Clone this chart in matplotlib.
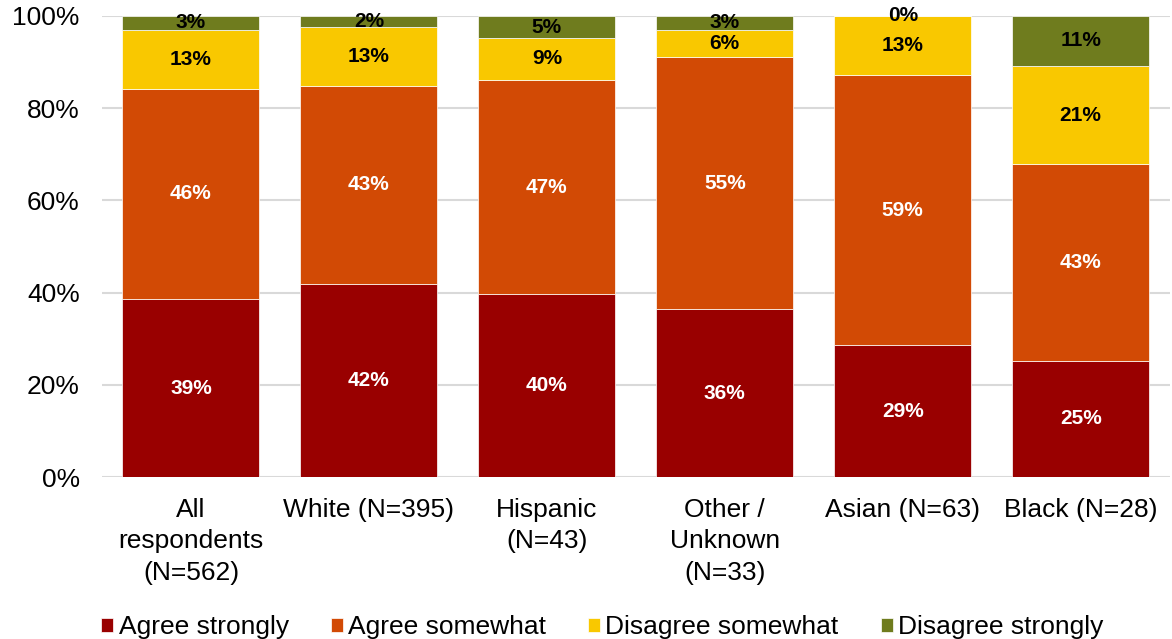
import matplotlib.pyplot as plt
from matplotlib.ticker import PercentFormatter

plt.rcParams['font.family'] = ['Liberation Sans', 'DejaVu Sans']

groups = ["All\nrespondents\n(N=562)", "White (N=395)", "Hispanic\n(N=43)",
          "Other /\nUnknown\n(N=33)", "Asian (N=63)", "Black (N=28)"]

agree_strongly = [38.6, 41.9, 39.6, 36.4, 28.6, 25.2]
agree_somewhat = [45.6, 42.9, 46.6, 54.6, 58.6, 42.6]
disagree_somewhat = [12.8, 12.8, 9.0, 6.0, 12.8, 21.4]
disagree_strongly = [3.0, 2.4, 4.8, 3.0, 0.0, 10.8]

series = [
    ("Agree strongly", agree_strongly, "#990000", "white"),
    ("Agree somewhat", agree_somewhat, "#D24A05", "white"),
    ("Disagree somewhat", disagree_somewhat, "#F9C800", "black"),
    ("Disagree strongly", disagree_strongly, "#6F7C1E", "black"),
]

fig = plt.figure(figsize=(11.72, 6.39), dpi=100)
ax = fig.add_axes([0.087, 0.2535, 0.911, 0.7215])

x = range(len(groups))
bottom = [0.0] * len(groups)
for name, vals, color, txt in series:
    bars = ax.bar(x, vals, width=0.77, bottom=bottom, color=color,
                  edgecolor="white", linewidth=0.5, label=name, zorder=2)
    for i, b in enumerate(bars):
        ax.text(b.get_x() + b.get_width() / 2, bottom[i] + vals[i] / 2,
                f"{vals[i]:.0f}%", ha="center", va="center",
                color=txt, fontsize=15, fontweight="bold", zorder=3)
    bottom = [b0 + v for b0, v in zip(bottom, vals)]

ax.set_xlim(-0.5, len(groups) - 0.5)
ax.set_ylim(0, 100)
ax.set_yticks(range(0, 101, 20))
ax.yaxis.set_major_formatter(PercentFormatter(decimals=0))
ax.set_xticks(list(x))
ax.set_xticklabels(groups, linespacing=1.4)
ax.tick_params(axis="both", length=0, labelsize=19)
ax.tick_params(axis="y", pad=16)
ax.tick_params(axis="x", pad=15)
ax.grid(axis="y", color="#d9d9d9", linewidth=1.5, zorder=0)
ax.set_axisbelow(True)
for s in ax.spines.values():
    s.set_visible(False)

fig.legend(loc="center", bbox_to_anchor=(0.514, 0.018), ncol=4, frameon=False,
           fontsize=19, handlelength=0.45, handleheight=0.45,
           handletextpad=0.2, columnspacing=1.6, borderaxespad=0)

fig.savefig("out.png", dpi=100)
